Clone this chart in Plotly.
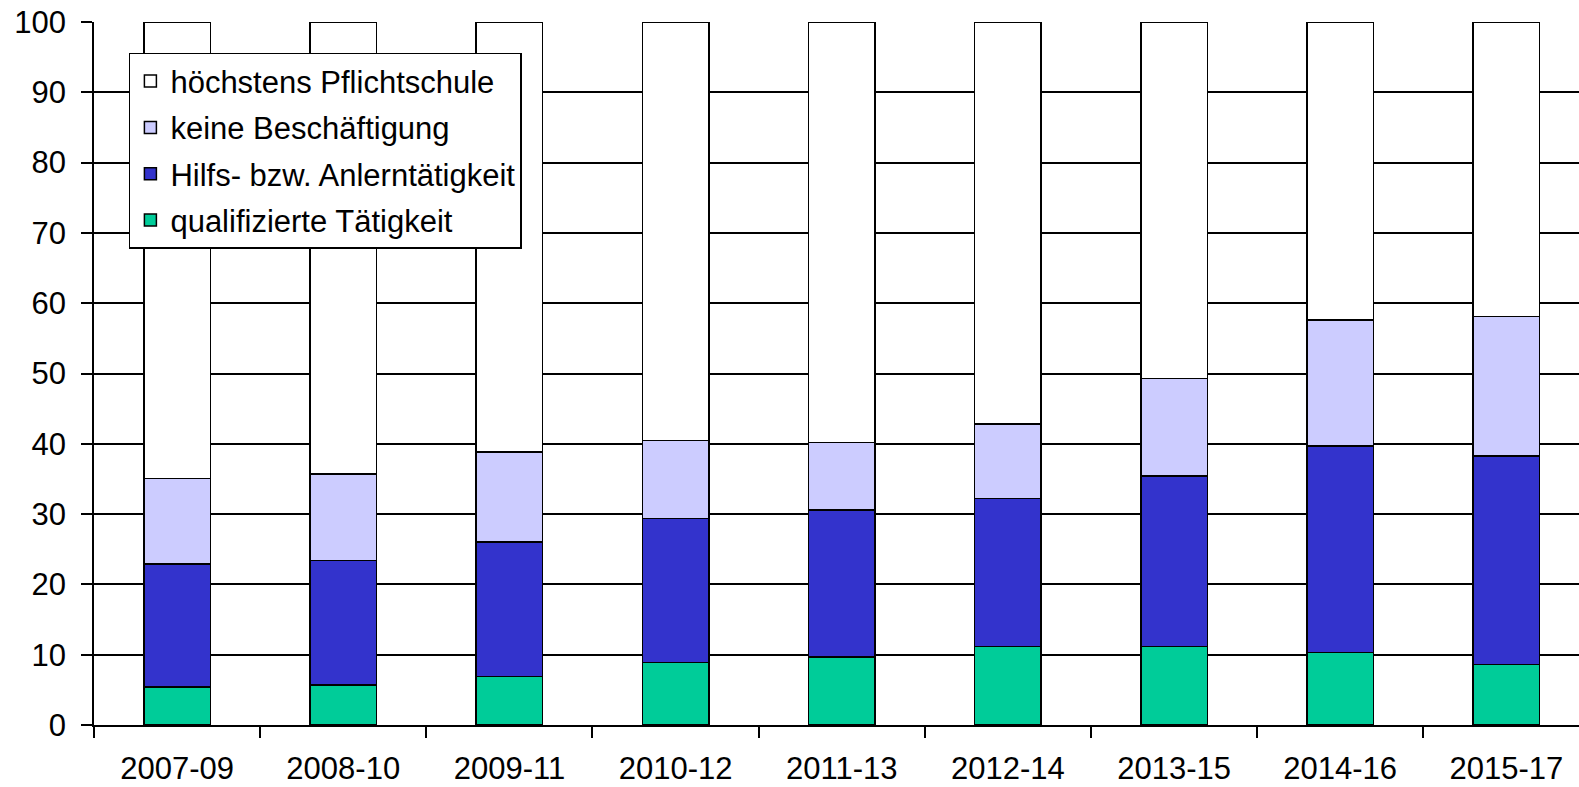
import plotly.graph_objects as go

categories = ["2007-09", "2008-10", "2009-11", "2010-12", "2011-13", "2012-14", "2013-15", "2014-16", "2015-17"]
# cumulative tops
top_qualifiziert = [5.4, 5.7, 6.9, 8.9, 9.7, 11.2, 11.2, 10.3, 8.6]
top_hilfs = [22.9, 23.4, 26.0, 29.4, 30.6, 32.2, 35.4, 39.7, 38.3]
top_keine = [35.1, 35.7, 38.8, 40.5, 40.2, 42.8, 49.3, 57.6, 58.1]
total = [100] * 9

qualifiziert = top_qualifiziert
hilfs = [round(b - a, 2) for a, b in zip(top_qualifiziert, top_hilfs)]
keine = [round(b - a, 2) for a, b in zip(top_hilfs, top_keine)]
pflicht = [round(t - a, 2) for a, t in zip(top_keine, total)]

series = [
    ("qualifizierte Tätigkeit", qualifiziert, "#00CC99"),
    ("Hilfs- bzw. Anlerntätigkeit", hilfs, "#3333CC"),
    ("keine Beschäftigung", keine, "#CCCCFF"),
    ("höchstens Pflichtschule", pflicht, "#FFFFFF"),
]

fig = go.Figure()
n = len(series)
for i, (name, vals, col) in enumerate(series):
    fig.add_trace(go.Bar(
        x=categories, y=vals, name=name, legendgroup=str(i),
        legendrank=n - i,
        marker=dict(color=col, line=dict(color="black", width=1.5)),
        width=0.4,
    ))

FONT = "Liberation Sans, Arial, sans-serif"
FS = 31
fig.update_layout(
    barmode="stack",
    width=1579, height=787,
    margin=dict(l=94, r=0, t=22, b=62),
    paper_bgcolor="white", plot_bgcolor="white",
    font=dict(family=FONT, size=FS, color="black"),
    showlegend=True,
    legend=dict(
        x=0.0235, y=0.956, xanchor="left", yanchor="top",
        bgcolor="white", bordercolor="black", borderwidth=1.5,
        traceorder="grouped", tracegroupgap=3,
        font=dict(family=FONT, size=FS, color="black"),
        itemwidth=30,
    ),
)
fig.update_xaxes(
    type="category", range=[-0.5, 8.437], automargin=False,
    showgrid=False, showline=True, linecolor="black", linewidth=1.5,
    ticks="outside", tickson="boundaries", ticklen=11, tickwidth=1.5, tickcolor="black",
    ticklabelstandoff=15,
    tickfont=dict(family=FONT, size=FS, color="black"),
)
fig.update_yaxes(
    range=[0, 100], tickmode="array", tickvals=list(range(0, 101, 10)), automargin=False,
    showgrid=True, gridcolor="black", gridwidth=1.5,
    showline=True, linecolor="black", linewidth=1.5,
    ticks="outside", ticklen=11, tickwidth=1.5, tickcolor="black",
    ticklabelstandoff=9, zeroline=False,
    tickfont=dict(family=FONT, size=FS, color="black"),
)

fig.write_html(
    "out.html",
    config={"displayModeBar": False},
    post_script="document.body.style.margin='0';document.body.style.overflow='hidden';",
)
